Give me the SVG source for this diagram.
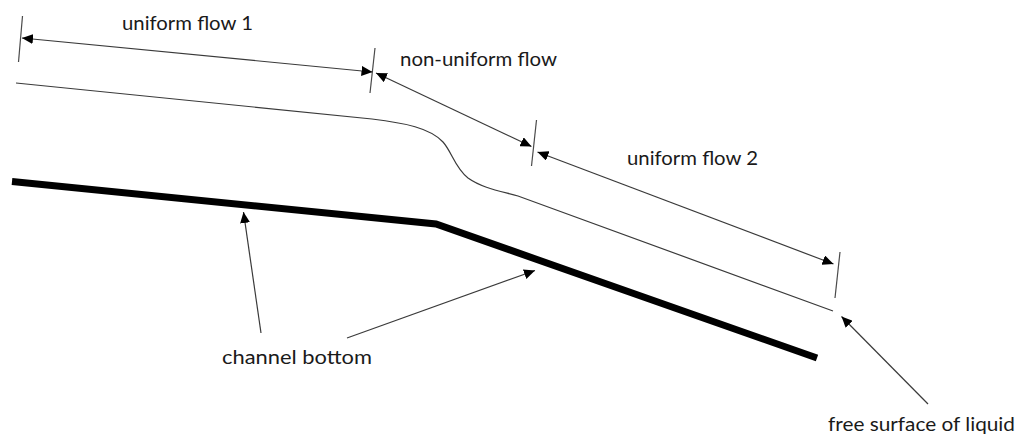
<svg xmlns="http://www.w3.org/2000/svg" width="1018" height="438" viewBox="0 0 1018 438">
  <style>
    .thin { fill: none; stroke: #3a3a3a; stroke-width: 1.2; }
    .tick { fill: none; stroke: #4a4a4a; stroke-width: 1.2; }
    .bed { fill: none; stroke: #000; stroke-width: 7; stroke-linejoin: miter; }
    .lbl { font-family: Lato, "Open Sans", "Liberation Sans", sans-serif; font-size: 19.5px; fill: #1a1a1a; }
  </style>
  <defs>
    <marker id="head" viewBox="0 0 11 10" markerWidth="11" markerHeight="10" refX="11" refY="5" markerUnits="userSpaceOnUse" orient="auto-start-reverse">
      <path d="M0,0 L11,5 L0,10 z" fill="#000"/>
    </marker>
  </defs>

  <!-- channel bed -->
  <g id="channel-bottom">
    <polyline class="bed" points="12,181.5 436,224 817,358"/>
  </g>

  <!-- free surface of the liquid -->
  <g id="free-surface">
    <path class="thin" d="M16,83 L372,119 C405,123 430,128 443,142 C452,152 455,168 468,178 C482,188 500,191 518,196 L833,311"/>
  </g>

  <!-- section boundaries -->
  <g id="ticks">
    <line class="tick" x1="22.5" y1="16" x2="18.5" y2="62"/>
    <line class="tick" x1="375" y1="48" x2="370" y2="93"/>
    <line class="tick" x1="536.5" y1="120" x2="531.5" y2="166"/>
    <line class="tick" x1="840" y1="252" x2="835" y2="298"/>
  </g>

  <g id="connectors">
    <!-- dimension arrows -->
    <line class="thin" x1="22" y1="38" x2="372.5" y2="72" marker-start="url(#head)" marker-end="url(#head)"/>
    <line class="thin" x1="376" y1="73" x2="531.5" y2="146.5" marker-start="url(#head)" marker-end="url(#head)"/>
    <line class="thin" x1="537.5" y1="152" x2="833.5" y2="264" marker-start="url(#head)" marker-end="url(#head)"/>
    <!-- pointer arrows -->
    <line class="thin" x1="261" y1="333" x2="243.5" y2="212" marker-end="url(#head)"/>
    <line class="thin" x1="347" y1="338" x2="535" y2="270.5" marker-end="url(#head)"/>
    <line class="thin" x1="928" y1="404" x2="841.5" y2="316.5" marker-end="url(#head)"/>
  </g>

  <g id="labels">
    <text class="lbl" x="122" y="30" textLength="131" lengthAdjust="spacingAndGlyphs">uniform flow 1</text>
    <text class="lbl" x="400" y="66" textLength="157" lengthAdjust="spacingAndGlyphs">non-uniform flow</text>
    <text class="lbl" x="627" y="165" textLength="131" lengthAdjust="spacingAndGlyphs">uniform flow 2</text>
    <text class="lbl" x="222" y="364" textLength="150" lengthAdjust="spacingAndGlyphs">channel bottom</text>
    <text class="lbl" x="828" y="431" textLength="187" lengthAdjust="spacingAndGlyphs">free surface of liquid</text>
  </g>
</svg>
